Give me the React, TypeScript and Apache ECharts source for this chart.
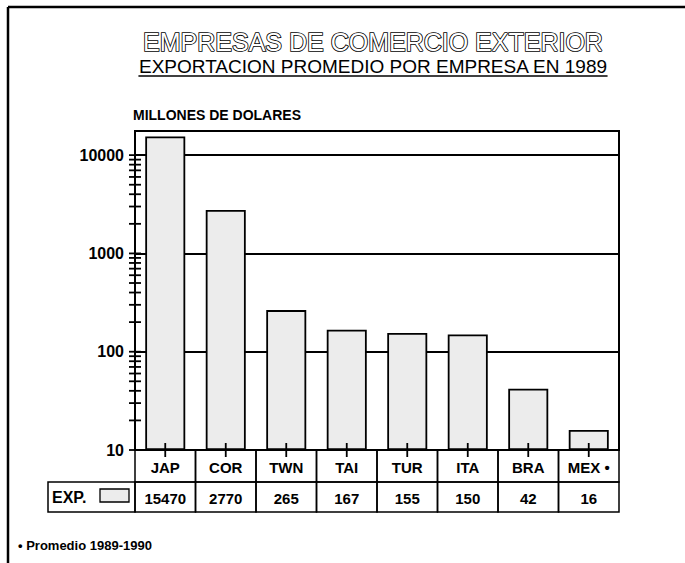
import React, { useEffect, useRef } from "react";
import * as echarts from "echarts";

const CATEGORIES = ["JAP", "COR", "TWN", "TAI", "TUR", "ITA", "BRA", "MEX •"];
const VALUES = [15470, 2770, 265, 167, 155, 150, 42, 16];
const Y_LABELS = [10, 100, 1000, 10000];
const LOG_TICKS = [
  10, 20, 30, 40, 50, 60, 70, 80, 90,
  100, 200, 300, 400, 500, 600, 700, 800, 900,
  1000, 2000, 3000, 4000, 5000, 6000, 7000, 8000, 9000,
  10000,
];
const TITLE = "EMPRESAS DE COMERCIO EXTERIOR";
const SUBTITLE = "EXPORTACION PROMEDIO POR EMPRESA EN 1989";
const Y_NAME = "MILLONES DE DOLARES";
const ROW_NAME = "EXP.";
const FOOTNOTE = "• Promedio 1989-1990";

const FONT = "'Liberation Sans', Arial, Helvetica, sans-serif";

export default function App() {
  const ref = useRef<HTMLDivElement>(null);

  useEffect(() => {
    if (!ref.current) return;
    const chart = echarts.init(ref.current, undefined, { renderer: "svg" });

    const cv = document.createElement("canvas").getContext("2d");
    let subW = 480;
    if (cv) {
      cv.font = `19px ${FONT}`;
      subW = cv.measureText(SUBTITLE).width;
    }
    const cx = 373;

    const option: any = {
      animation: false,
      backgroundColor: "#fff",
      grid: {
        left: 135,
        right: 66,
        top: 131,
        bottom: 113,
        show: true,
        borderColor: "#000",
        borderWidth: 2,
        backgroundColor: "transparent",
      },
      xAxis: {
        type: "category",
        data: CATEGORIES,
        axisLine: { show: true, lineStyle: { color: "#000", width: 2 } },
        axisTick: { show: false },
        axisLabel: {
          color: "#000",
          fontFamily: FONT,
          fontWeight: "bold",
          fontSize: 15,
          margin: 10,
          interval: 0,
        },
        splitLine: { show: false },
      },
      yAxis: {
        type: "log",
        logBase: 10,
        min: 10,
        max: 17600,
        startValue: 10,
        axisLine: { show: true, lineStyle: { color: "#000", width: 2 } },
        axisTick: { show: false },
        axisLabel: {
          color: "#000",
          fontFamily: FONT,
          fontWeight: "bold",
          fontSize: 16,
          margin: 11,
          showMaxLabel: false,
          formatter: (v: number) => {
            const hit = Y_LABELS.find((t) => Math.abs(t - v) / t < 1e-6);
            return hit ? String(hit) : "";
          },
        },
        splitLine: { show: true, lineStyle: { color: "#000", width: 1.8 } },
      },
      series: [
        {
          type: "bar",
          data: VALUES,
          barWidth: 40,
          itemStyle: { color: "#ececec", borderColor: "#000", borderWidth: 1.8 },
          z: 2,
        },
        {
          type: "custom",
          clip: false,
          z: 5,
          data: LOG_TICKS.map((v) => [0, v]),
          renderItem: (params: any, api: any) => {
            const p = api.coord([0, api.value(1)]);
            const x0 = params.coordSys.x;
            return {
              type: "line",
              shape: { x1: x0 - 6, y1: p[1], x2: x0 + 6, y2: p[1] },
              style: { stroke: "#000", lineWidth: 1.8 },
            };
          },
        },
        {
          type: "custom",
          clip: false,
          z: 5,
          data: VALUES.map((v, i) => [i, v]),
          renderItem: (params: any, api: any) => {
            const i = api.value(0);
            const c = api.coord([i, 10]);
            const bw = api.size([1, 0])[0];
            const y0 = c[1];
            return {
              type: "group",
              children: [
                {
                  type: "line",
                  shape: { x1: c[0], y1: y0 - 7, x2: c[0], y2: y0 + 7 },
                  style: { stroke: "#000", lineWidth: 1.8 },
                },
                {
                  type: "rect",
                  shape: { x: c[0] - bw / 2, y: y0, width: bw, height: 32 },
                  style: { fill: "none", stroke: "#000", lineWidth: 1.5 },
                },
                {
                  type: "rect",
                  shape: { x: c[0] - bw / 2, y: y0 + 32, width: bw, height: 30 },
                  style: { fill: "none", stroke: "#000", lineWidth: 1.5 },
                },
                {
                  type: "text",
                  style: {
                    text: String(VALUES[i]),
                    x: c[0],
                    y: y0 + 48,
                    align: "center",
                    verticalAlign: "middle",
                    fontFamily: FONT,
                    fontWeight: "bold",
                    fontSize: 15,
                    fill: "#000",
                  },
                },
              ],
            };
          },
        },
      ],
      graphic: [
        {
          type: "line",
          shape: { x1: 8, y1: 7, x2: 685, y2: 7 },
          style: { stroke: "#000", lineWidth: 2.5 },
        },
        {
          type: "line",
          shape: { x1: 8, y1: 7, x2: 8, y2: 563 },
          style: { stroke: "#000", lineWidth: 2.5 },
        },
        {
          type: "text",
          x: cx,
          y: 42,
          style: {
            text: TITLE,
            align: "center",
            verticalAlign: "middle",
            fontFamily: FONT,
            fontSize: 25,
            fill: "#fff",
            stroke: "#000",
            lineWidth: 1.7,
          },
        },
        {
          type: "text",
          x: cx,
          y: 66,
          style: {
            text: SUBTITLE,
            align: "center",
            verticalAlign: "middle",
            fontFamily: FONT,
            fontSize: 19,
            fill: "#000",
          },
        },
        {
          type: "line",
          shape: { x1: cx - subW / 2, y1: 76, x2: cx + subW / 2, y2: 76 },
          style: { stroke: "#000", lineWidth: 1.5 },
        },
        {
          type: "text",
          x: 133,
          y: 115,
          style: {
            text: Y_NAME,
            align: "left",
            verticalAlign: "middle",
            fontFamily: FONT,
            fontWeight: "bold",
            fontSize: 14,
            fill: "#000",
          },
        },
        {
          type: "rect",
          shape: { x: 48, y: 482, width: 87, height: 30 },
          style: { fill: "none", stroke: "#000", lineWidth: 1.5 },
        },
        {
          type: "text",
          x: 52,
          y: 497,
          style: {
            text: ROW_NAME,
            align: "left",
            verticalAlign: "middle",
            fontFamily: FONT,
            fontWeight: "bold",
            fontSize: 16,
            fill: "#000",
          },
        },
        {
          type: "rect",
          shape: { x: 100, y: 489, width: 29, height: 13 },
          style: { fill: "#ececec", stroke: "#000", lineWidth: 1.3 },
        },
        {
          type: "text",
          x: 18,
          y: 545,
          style: {
            text: FOOTNOTE,
            align: "left",
            verticalAlign: "middle",
            fontFamily: FONT,
            fontWeight: "bold",
            fontSize: 13,
            fill: "#000",
          },
        },
      ],
    };

    chart.setOption(option);
    return () => chart.dispose();
  }, []);

  return (
    <div
      ref={ref}
      style={{ position: "fixed", left: 0, top: 0, width: 685, height: 563 }}
    />
  );
}
